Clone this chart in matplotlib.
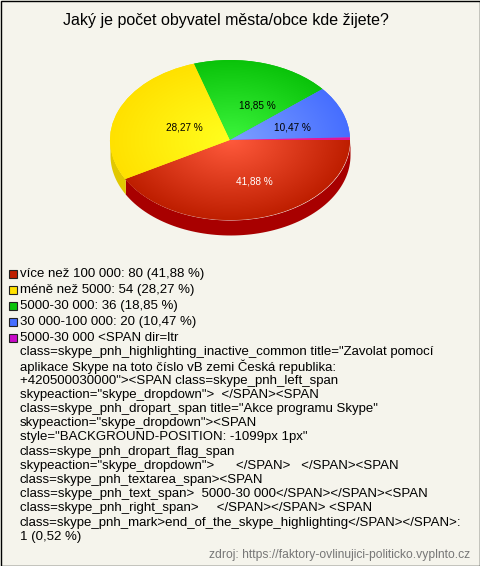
import numpy as np
import matplotlib
matplotlib.use("Agg")
import matplotlib.pyplot as plt
from matplotlib.colors import LinearSegmentedColormap
from matplotlib.patches import Rectangle

plt.rcParams['font.family'] = ['Liberation Sans', 'DejaVu Sans']

title = "Jaký je počet obyvatel města/obce kde žijete?"
source = "zdroj: https://faktory-ovlinujici-politicko.vyplnto.cz"

values = [80, 54, 36, 20, 1]
legend_names = [
    "více než 100 000",
    "méně než 5000",
    "5000-30 000",
    "30 000-100 000",
]
long_name = [
    "5000-30 000 <SPAN dir=ltr",
    "class=skype_pnh_highlighting_inactive_common title=\"Zavolat pomocí",
    "aplikace Skype na toto číslo vB zemi Česká republika:",
    "+420500030000\"><SPAN class=skype_pnh_left_span",
    "skypeaction=\"skype_dropdown\">  </SPAN><SPAN",
    "class=skype_pnh_dropart_span title=\"Akce programu Skype\"",
    "skypeaction=\"skype_dropdown\"><SPAN",
    "style=\"BACKGROUND-POSITION: -1099px 1px\"",
    "class=skype_pnh_dropart_flag_span",
    "skypeaction=\"skype_dropdown\">      </SPAN>   </SPAN><SPAN",
    "class=skype_pnh_textarea_span><SPAN",
    "class=skype_pnh_text_span>  5000-30 000</SPAN></SPAN><SPAN",
    "class=skype_pnh_right_span>     </SPAN></SPAN> <SPAN",
    "class=skype_pnh_mark>end_of_the_skype_highlighting</SPAN></SPAN>:",
]

center_colors = ['#ff5a3c', '#ffff1e', '#3cf53c', '#7da0ff', '#f0209a']
edge_colors = ['#be1e00', '#ffe100', '#0ac30a', '#466eff', '#e01496']
side_colors = ['#a80000', '#e1c800', '#089008', '#3050c0', '#a01080']
legend_colors = ['#be1e00', '#ffe100', '#0ac30a', '#466eff', '#c80ac8']
label_colors = ['white', 'black', 'black', 'black']
label_pos = [(254, 181), (184, 127), (257, 105), (292, 128)]

bg = '#f5f4ec'
total = sum(values)
percents = [v / total * 100 for v in values]


def pct(p):
    return f"{p:.2f}".replace(".", ",") + " %"


fig = plt.figure(figsize=(4.8, 5.66), dpi=100, facecolor=bg)

# pie axes: 120 px per unit in x, 80 px per unit in y, centre at (230, 140)
ax = fig.add_axes([80 / 480, 1 - 260 / 566, 300 / 480, 220 / 566])
depth = 15 / 80
wedges, _ = ax.pie(values, startangle=0, counterclock=False, radius=1,
                   colors=edge_colors, wedgeprops={'linewidth': 0})

# side of the pie, only the front half shows
edges = np.cumsum([0] + values) / total * 360
for i in range(len(values)):
    a0, a1 = edges[i], min(edges[i + 1], 180)
    if a1 <= a0:
        continue
    t = np.radians(np.linspace(a0, a1, 80))
    ax.fill_between(np.cos(t), -np.sin(t) - depth, -np.sin(t),
                    color=side_colors[i], lw=0, zorder=0.5)

# radial gradient on each slice
yy, xx = np.mgrid[-1.02:1.02:300j, -1.02:1.02:300j]
rr = np.clip(np.hypot(xx, yy), 0, 1)
for w, c0, c1 in zip(wedges, center_colors, edge_colors):
    cmap = LinearSegmentedColormap.from_list("g", [c0, c1])
    im = ax.imshow(rr, cmap=cmap, vmin=0, vmax=1, extent=(-1.02, 1.02, -1.02, 1.02),
                   origin='lower', aspect='auto', zorder=2)
    im.set_clip_path(w)

ax.set_xlim(-1.25, 1.25)
ax.set_ylim(-1.5, 1.25)
ax.set_aspect('auto')
ax.axis('off')

# everything else placed in pixel coordinates
ov = fig.add_axes([0, 0, 1, 1], zorder=5)
ov.set_xlim(0, 480)
ov.set_ylim(566, 0)
ov.axis('off')
ov.patch.set_alpha(0)

ov.add_patch(Rectangle((0.5, 0.5), 479, 565, fill=False, ec='black', lw=1))

ov.text(226, 20.5, title, ha='center', va='center', fontsize=11.55, color='black')

for p, c, xy in zip(percents, label_colors, label_pos):
    ov.text(xy[0], xy[1], pct(p), ha='center', va='center', fontsize=7.2, color=c)

rows = [f"{n}: {v} ({pct(p)})" for n, v, p in zip(legend_names, values, percents)]
for i, row in enumerate(rows):
    y = 274 + i * 16
    ov.add_patch(Rectangle((9, y - 4.5), 8, 8, fc=legend_colors[i], ec='#222222', lw=0.8))
    ov.text(20, y, row, va='center', ha='left', fontsize=9.55)

y = 338
ov.add_patch(Rectangle((9, y - 4.5), 8, 8, fc=legend_colors[4], ec='#222222', lw=0.8))
for i, line in enumerate(long_name + [f"{values[4]} ({pct(percents[4])})"]):
    ov.text(20, y + i * 14.2, line, va='center', ha='left', fontsize=9.55)

ov.text(470, 555, source, ha='right', va='center', fontsize=8.75, color='#777777')

fig.savefig("out.png", dpi=100, facecolor=bg)
